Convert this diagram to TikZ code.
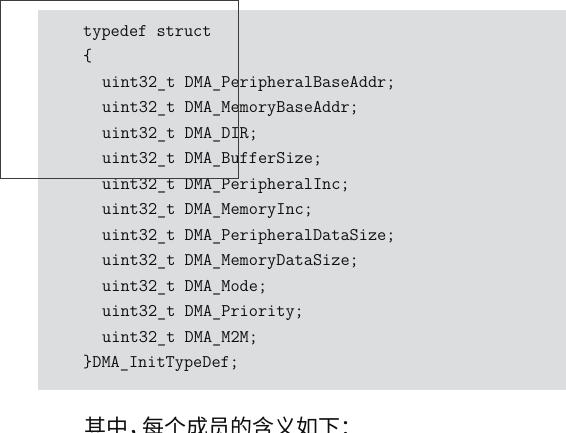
\documentclass[tikz,border=0pt]{standalone}
\usepackage{fontspec}
\newfontfamily\cjk{Noto Sans CJK SC}
\definecolor{codebg}{RGB}{220,221,223}
\definecolor{codefg}{RGB}{15,15,15}
\definecolor{framec}{RGB}{60,60,60}
\begin{document}
\begin{tikzpicture}[x=1pt,y=-1pt,
  codeline/.style={anchor=base west,inner sep=0pt,text=codefg,font=\ttfamily\fontsize{17.8}{20}\selectfont},
  cntext/.style={anchor=base west,inner sep=0pt,text=codefg,font=\cjk\fontsize{22}{26}\selectfont}]
\useasboundingbox (0,0) rectangle (566,432);
\fill[codebg] (37.7,10) rectangle (566,390);
\node[codeline] (l1) at (83,36) {typedef struct};
\node[codeline] (l2) at (83,61.5) {\{};
\node[codeline] (l3) at (102,87) {uint32\_t DMA\_PeripheralBaseAddr;};
\node[codeline] (l4) at (102,112.5) {uint32\_t DMA\_MemoryBaseAddr;};
\node[codeline] (l5) at (102,138) {uint32\_t DMA\_DIR;};
\node[codeline] (l6) at (102,163.5) {uint32\_t DMA\_BufferSize;};
\node[codeline] (l7) at (102,189) {uint32\_t DMA\_PeripheralInc;};
\node[codeline] (l8) at (102,214.5) {uint32\_t DMA\_MemoryInc;};
\node[codeline] (l9) at (102,240) {uint32\_t DMA\_PeripheralDataSize;};
\node[codeline] (l10) at (102,265.5) {uint32\_t DMA\_MemoryDataSize;};
\node[codeline] (l11) at (102,291) {uint32\_t DMA\_Mode;};
\node[codeline] (l12) at (102,316.5) {uint32\_t DMA\_Priority;};
\node[codeline] (l13) at (102,342) {uint32\_t DMA\_M2M;};
\node[codeline] (l14) at (83,367.5) {\}DMA\_InitTypeDef;};
\node[cntext] (cn) at (84,435) {其中，\hspace{-8pt}每个成员的含义如下：};
\draw[framec,line width=1pt] (0.5,0.5) rectangle (238,178);
\end{tikzpicture}
\end{document}
